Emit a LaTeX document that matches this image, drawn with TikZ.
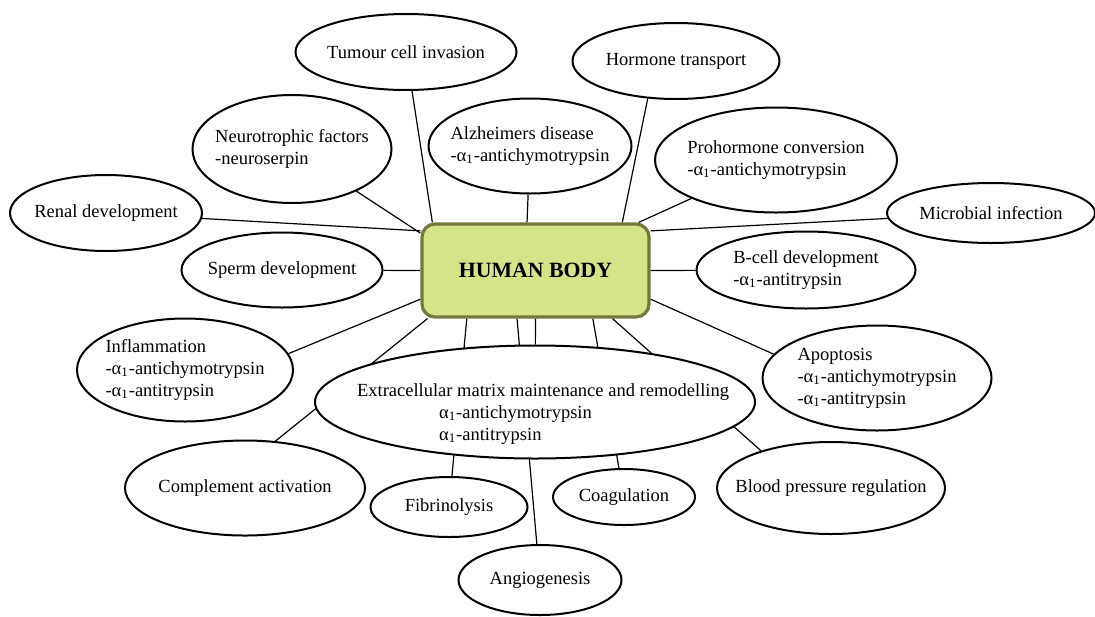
\documentclass[tikz,border=0pt]{standalone}
\usepackage{fontspec}
\setmainfont{Liberation Serif}
\usepackage{xcolor}
\definecolor{hubEdge}{HTML}{76773A}
\definecolor{hubFill}{HTML}{D5E389}
\usepackage{tikz}
\usetikzlibrary{shapes,positioning,backgrounds}
\newcommand{\alphaOne}{α\textsubscript{1}}
\tikzset{%
  bubble/.style 2 args={%
    ellipse,
    draw=black,
    line width=1pt,
    fill=white,
    inner sep=0pt,
    minimum width=#1*0.5pt,
    minimum height=#2*0.5pt
  },
  bubbleText/.style={%
    align=left,
    inner sep=0pt,
    font=\fontsize{9.25}{11}\selectfont
  },
  hubBox/.style={%
    rectangle,
    rounded corners=6.5pt,
    draw=hubEdge,
    line width=1.6pt,
    fill=hubFill,
    minimum width=113.5pt,
    minimum height=46.5pt,
    font=\fontsize{10.9}{13}\selectfont\bfseries
  },
  linkLine/.style={%
    draw=black,
    line width=0.6pt
  }
}

\begin{document}
\begin{tikzpicture}[x=0.5pt, y=-0.5pt]
  \useasboundingbox (0,0) rectangle (1095,616);
  \node[hubBox] (body) at (535.5,270.5) {HUMAN BODY};

  \node[bubble={221}{76}, label={[bubbleText]center:Tumour cell invasion}] (tumour) at (406,52) {};
  \node[bubble={207}{76}, label={[bubbleText]center:Hormone transport}] (hormone) at (676,61) {};
  \node[bubble={199}{108}, label={[bubbleText]center:Neurotrophic factors\\-neuroserpin}] (neuro) at (292,149) {};
  \node[bubble={203}{95}, label={[bubbleText]center:Alzheimers disease\\-\alphaOne-antichymotrypsin}] (alzheimer) at (530,146) {};
  \node[bubble={242}{105}, label={[bubbleText]center:Prohormone conversion\\-\alphaOne-antichymotrypsin}] (prohormone) at (776,160) {};
  \node[bubble={192}{76}, label={[bubbleText]center:Renal development}] (renal) at (106,213) {};
  \node[bubble={208}{60}, label={[bubbleText]center:Microbial infection}] (microbial) at (991,213) {};
  \node[bubble={201}{75}, label={[bubbleText]center:Sperm development}] (sperm) at (282,270) {};
  \node[bubble={219}{77}, label={[bubbleText]center:B-cell development\\-\alphaOne-antitrypsin}] (bcell) at (806,270) {};
  \node[bubble={216}{103}, label={[bubbleText]center:Inflammation\\-\alphaOne-antichymotrypsin\\-\alphaOne-antitrypsin}] (inflam) at (185,370) {};
  \node[bubble={229}{105}, label={[bubbleText]center:Apoptosis\\-\alphaOne-antichymotrypsin\\-\alphaOne-antitrypsin}] (apoptosis) at (877,378) {};
  \node[bubble={440}{113}, label={[bubbleText, xshift=4pt, yshift=-6pt]center:Extracellular matrix maintenance and remodelling\\\hspace*{41pt}\alphaOne-antichymotrypsin\\\hspace*{41pt}\alphaOne-antitrypsin}] (ecm) at (535,402) {};
  \node[bubble={240}{95}, label={[bubbleText]center:Complement activation}] (complement) at (245,488) {};
  \node[bubble={157}{60}, label={[bubbleText]center:Fibrinolysis}] (fibrin) at (449,507) {};
  \node[bubble={142}{56}, label={[bubbleText]center:Coagulation}] (coag) at (624,497) {};
  \node[bubble={228}{92}, label={[bubbleText]center:Blood pressure regulation}] (blood) at (831,488) {};
  \node[bubble={163}{70}, label={[bubbleText]center:Angiogenesis}] (angio) at (540,580) {};

  % spokes behind the bubbles
  \begin{pgfonlayer}{background}
    \draw[linkLine] (body.155) -- (tumour);
    \draw[linkLine] (body.100) -- (alzheimer);
    \draw[linkLine] (body.29) -- (hormone.233);
    \draw[linkLine] (body.25) -- (prohormone);
    \draw[linkLine] (body.19) -- (microbial);
    \draw[linkLine] (body.east) -- (bcell);
    \draw[linkLine] (body.346) -- (apoptosis.167);
    \draw[linkLine] (body.328) -- (blood.152);
    \draw[linkLine] (body.320) -- (coag);
    \draw[linkLine] (body.south) -- (ecm);
    \draw[linkLine] (body.249) -- (angio);
    \draw[linkLine] (body.215) -- (fibrin);
    \draw[linkLine] (body.204) -- (complement.57);
    \draw[linkLine] (body.194) -- (inflam.9);
    \draw[linkLine] (body.west) -- (sperm);
    \draw[linkLine] (body.161) -- (renal);
    \draw[linkLine] (body.162) -- (neuro);
  \end{pgfonlayer}
\end{tikzpicture}
\end{document}
